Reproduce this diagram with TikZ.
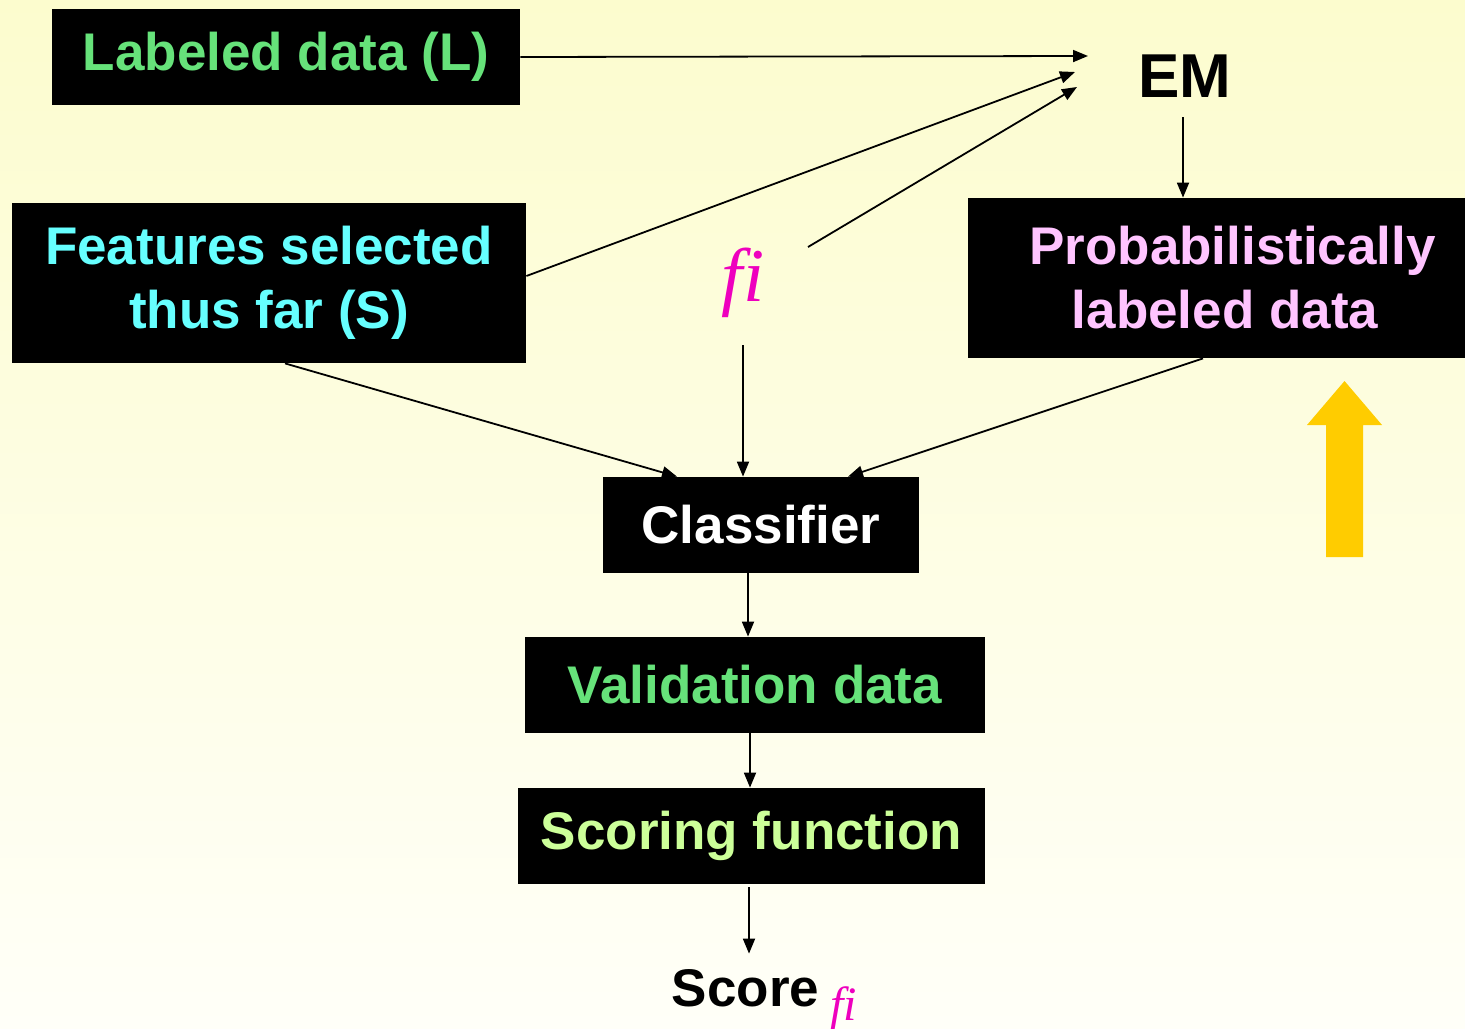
\documentclass[tikz,border=0pt]{standalone}
\usepackage{fontspec}
\setmainfont{Liberation Sans}
\newfontfamily\tms{Liberation Serif}
\usetikzlibrary{arrows.meta,calc}
\definecolor{bgtop}{RGB}{252,252,206}
\definecolor{bgbot}{RGB}{255,255,248}
\definecolor{tgreen}{RGB}{102,226,122}
\definecolor{tcyan}{RGB}{102,255,255}
\definecolor{tpink}{RGB}{255,196,255}
\definecolor{tlime}{RGB}{204,255,153}
\definecolor{fimag}{RGB}{238,0,190}
\definecolor{gold}{RGB}{255,204,0}
\begin{document}
\begin{tikzpicture}[x=0.5pt,y=-0.5pt,
  box/.style={fill=black, inner sep=0pt, align=center,
    font=\fontsize{26.5}{32}\selectfont\bfseries},
  plain/.style={inner sep=0pt, font=\fontsize{26.5}{32}\selectfont\bfseries},
  fitext/.style={text=fimag, font=\fontsize{38}{42}\selectfont\tms\itshape},
  conn/.style={line width=0.9pt, -{Triangle[length=7.5pt,width=6pt]}}]
\useasboundingbox (0,0) rectangle (1465,1028);
\fill[top color=bgtop, bottom color=bgbot] (0,0) rectangle (1465,1028);

% boxes
\node[box, text=tgreen, minimum width=234pt, minimum height=48pt] (L) at (286,57) {Labeled data (L)};
\node[box, text=tcyan, minimum width=257pt, minimum height=80pt] (S) at (269,283) {Features selected\\thus far (S)};
\node[box, text=tpink, minimum width=248.5pt, minimum height=80pt] (P) at (1216.5,278)
  {\hspace*{16pt}Probabilistically\\\hspace*{8.5pt}labeled data};
\node[box, text=white, minimum width=158pt, minimum height=48pt] (C) at (761,525) {Classifier};
\node[box, text=tgreen, minimum width=230pt, minimum height=48pt] (V) at (755,685) {Validation data};
\node[box, text=tlime, minimum width=233.5pt, minimum height=48pt] (SF) at (751.5,836) {Scoring function};

% free texts
\node[plain, font=\fontsize{31}{36}\selectfont\bfseries, inner sep=10pt, anchor=base] (EM) at (1185,97) {EM};
\node[fitext, inner sep=0pt, anchor=base] (fi) at (743,301) {f{}i};
\node[plain, inner sep=9pt, anchor=base] (score) at (745.5,1006) {Score};
\node[text=fimag, font=\fontsize{24}{26}\selectfont\tms\itshape, inner sep=0pt, anchor=base west] (scorefi) at (830,1020) {f{}i};

\coordinate (emL) at (1088,56);
\coordinate (emS) at (1075,72);
\coordinate (emF) at (1077,87);
\coordinate (fiT) at ($(fi.base)+(65,-54)$);
\coordinate (fiB) at ($(fi.base)+(0,44)$);

% connectors
\draw[conn] (L.east) -- (emL);
\draw[conn] ([yshift=3.5pt]S.east) -- (emS);
\draw[conn] (fiT) -- (emF);
\draw[conn] ([xshift=-1pt]EM.south) -- ([xshift=-1pt]EM.south |- P.north);
\draw[conn] ([xshift=8pt]S.south) -- ([xshift=-42pt]C.north);
\draw[conn] (fiB) -- (fiB |- C.north);
\draw[conn] ([xshift=-6.75pt]P.south) -- ([xshift=43.5pt]C.north);
\draw[conn] ([xshift=-6.5pt]C.south) -- ([xshift=-6.5pt]C.south |- V.north);
\draw[conn] ([xshift=-2.5pt]V.south) -- ([xshift=-2.5pt]V.south |- SF.north);
\draw[conn] ([yshift=-1.5pt,xshift=-1.25pt]SF.south) -- ([yshift=-1.5pt,xshift=-1.25pt]SF.south |- score.north);

% big yellow arrow
\fill[gold] (1326,557) -- (1326,425) -- (1307,425) -- (1344.5,381) -- (1382,425)
  -- (1363,425) -- (1363,557) -- cycle;
\end{tikzpicture}
\end{document}
